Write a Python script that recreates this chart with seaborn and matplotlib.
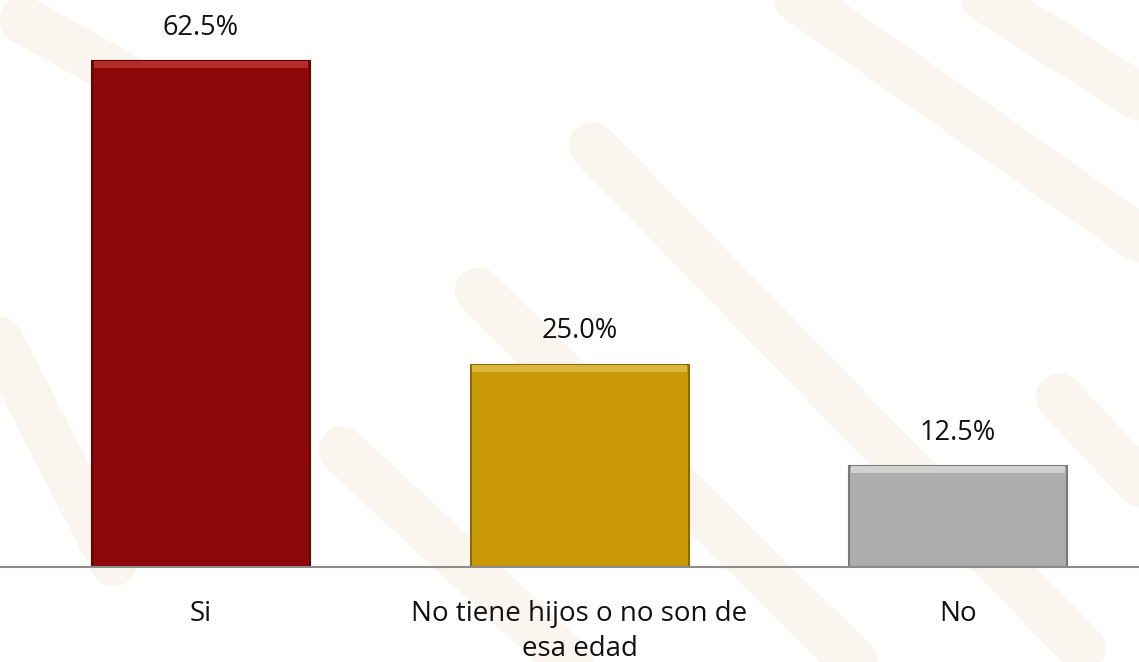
import matplotlib
matplotlib.use("Agg")
import matplotlib.pyplot as plt
import seaborn as sns
import pandas as pd

# --- Datos ---
categorias = ["Si", "No tiene hijos o no son de\nesa edad", "No"]
porcentajes = [62.5, 25.0, 12.5]
colores = ["#8c0709", "#c99905", "#adadad"]
bordes = ["#5e0405", "#8a6a04", "#7a7a7a"]
brillos = ["#b52a2c", "#dbb53c", "#d2d2d2"]

sns.set_theme(style="white")
plt.rcParams["font.family"] = ["Open Sans", "DejaVu Sans"]

df = pd.DataFrame({"categoria": categorias, "pct": porcentajes})

fig = plt.figure(figsize=(11.39, 6.62), dpi=100)
fig.patch.set_facecolor("white")

# --- Fondo: franjas diagonales tenues (marca de agua) ---
franjas = [((0.66, 1.05), (1.05, 0.58)), ((0.82, 1.05), (1.05, 0.80)),
           ((0.52, 0.78), (0.95, 0.02)), ((0.42, 0.56), (0.75, 0.00)),
           ((0.30, 0.32), (0.50, 0.00)), ((0.93, 0.40), (1.05, 0.18)),
           ((-0.02, 0.55), (0.10, 0.15)), ((0.02, 0.97), (0.25, 0.75))]
for (x0, y0), (x1, y1) in franjas:
    fig.add_artist(plt.Line2D([x0, x1], [y0, y1], transform=fig.transFigure,
                              color="#f7f0e5", lw=34, alpha=0.6,
                              solid_capstyle="round", zorder=0))

ax = fig.add_axes([0, 0.1435, 1, 0.8565])
ax.set_facecolor("none")

sns.barplot(data=df, x="categoria", y="pct", hue="categoria", palette=colores,
            saturation=1, width=0.576, legend=False, ax=ax, zorder=3)

for barra, borde, brillo in zip(ax.patches, bordes, brillos):
    barra.set_edgecolor(borde)
    barra.set_linewidth(1.5)
    # franja clara en el borde superior (efecto biselado)
    x, w, h = barra.get_x(), barra.get_width(), barra.get_height()
    ax.bar(x + w / 2, 0.9, bottom=h - 0.9, width=w * 0.985,
           color=brillo, linewidth=0, zorder=3.5)

for barra, v in zip(ax.patches, porcentajes):
    ax.text(barra.get_x() + barra.get_width() / 2, v + 4.1, f"{v:.1f}%",
            ha="center", va="center", fontsize=19.5, color="#111111")

ax.set_xlim(-0.531, 2.478)
ax.set_ylim(0, 70)
ax.set_xlabel("")
ax.set_ylabel("")
ax.set_yticks([])
ax.tick_params(axis="x", length=0, pad=24, labelsize=20, labelcolor="#111111")
for lbl in ax.get_xticklabels():
    lbl.set_linespacing(1.3)
    lbl.set_va("top")
sns.despine(ax=ax, left=True, top=True, right=True)
ax.spines["bottom"].set_color("#8c8c8c")
ax.spines["bottom"].set_linewidth(1.5)
ax.spines["bottom"].set_zorder(4)

fig.savefig("out.png", dpi=100)
